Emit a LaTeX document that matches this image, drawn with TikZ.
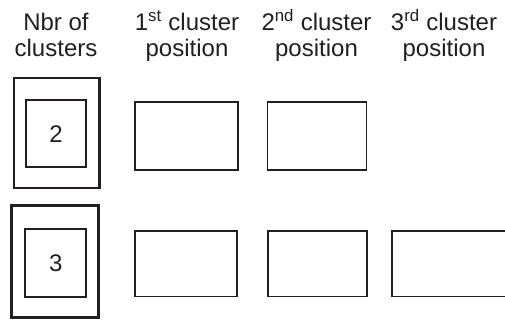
\documentclass[tikz,border=0pt]{standalone}
\usepackage{fontspec}
\setmainfont{Liberation Sans}
\definecolor{ink}{HTML}{231F20}
\begin{document}
\begin{tikzpicture}[x=1pt,y=-1pt,
  hdr/.style={align=center, font=\fontsize{24}{26}\selectfont, text=ink, inner sep=0pt, anchor=base},
  outerbox/.style={draw=ink, line width=2.8pt, inner sep=0pt},
  innerbox/.style={draw=ink, line width=1.9pt, inner sep=0pt, font=\fontsize{24}{26}\selectfont, text=ink},
  posbox/.style={draw=ink, line width=1.9pt, inner sep=0pt}]
\useasboundingbox (0,0) rectangle (505,320);
\clip (0,0) rectangle (505,320);
% headers (anchor base = baseline of the last line)
\node[hdr] (h0) at (56,57) {Nbr of\\clusters};
\node[hdr] (h1) at (187,57) {1\textsuperscript{st} cluster\\position};
\node[hdr] (h2) at (316.5,57) {2\textsuperscript{nd} cluster\\position};
\node[hdr] (h3) at (444,57) {3\textsuperscript{rd} cluster\\position};
% row 1
\node[outerbox, minimum width=85.5pt, minimum height=110pt] (o1) at (56.7,133) {};
\node[innerbox, minimum width=60pt, minimum height=67.5pt] (i1) at (56,133.7) {2};
\node[posbox, minimum width=103pt, minimum height=68pt] (r11) at (186.5,136.4) {};
\node[posbox, minimum width=99pt, minimum height=68pt] (r12) at (317,136) {};
% row 2
\node[outerbox, minimum width=87pt, minimum height=112pt] (o2) at (55,261.6) {};
\node[innerbox, minimum width=61pt, minimum height=68pt] (i2) at (55.8,262.8) {3};
\node[posbox, minimum width=102.5pt, minimum height=65.5pt] (r21) at (186,263.7) {};
\node[posbox, minimum width=99.5pt, minimum height=65.5pt] (r22) at (317.3,263.7) {};
\node[posbox, minimum width=120pt, minimum height=65.5pt] (r23) at (452,263.7) {};
\end{tikzpicture}
\end{document}
